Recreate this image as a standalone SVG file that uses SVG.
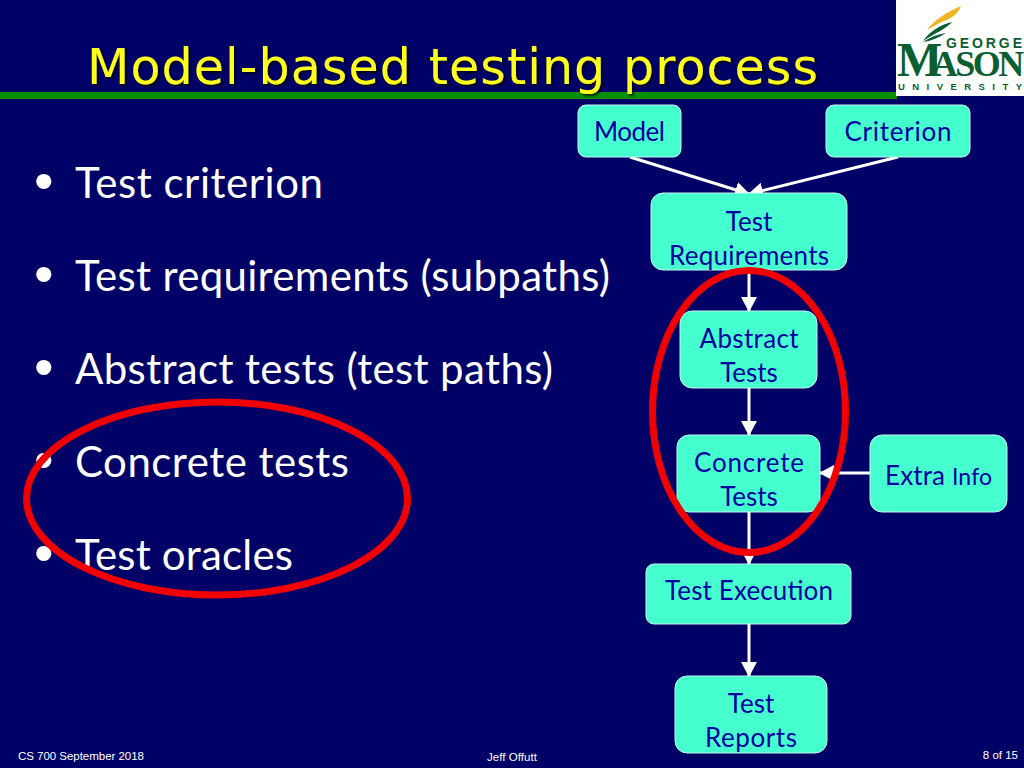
<svg xmlns="http://www.w3.org/2000/svg" width="1024" height="768" viewBox="0 0 1024 768">
<style>
.n{fill:#45FFCF;stroke:#C4F4F0;stroke-width:1}
.t{font-family:Lato,"Liberation Sans",sans-serif;font-size:26px;fill:#0000A0;text-anchor:middle}
.b{font-family:Lato,"Liberation Sans",sans-serif;font-size:42px;fill:#fff}
.d{font-family:"Liberation Sans",sans-serif;font-size:56px;fill:#fff}
.f{font-family:"Liberation Sans",sans-serif;font-size:11.500px;fill:#fff}
.c{stroke:#fff;stroke-width:3;fill:none;marker-end:url(#a)}
.r{fill:none;stroke:#F00000;stroke-width:7}
.g{font-family:"Liberation Sans",sans-serif;font-weight:bold;fill:#0B5D32}
</style>
<defs><marker id="a" markerUnits="userSpaceOnUse" markerWidth="16" markerHeight="18" refX="14" refY="9" orient="auto"><path d="M0 1L15 9L0 17Z" fill="#fff"/></marker>
<filter id="s" x="-5%" y="-20%" width="110%" height="140%"><feDropShadow dx="2" dy="2" stdDeviation="0.800" flood-color="#000" flood-opacity=".7"/></filter></defs>
<rect width="1024" height="768" fill="#000066"/>
<rect y="92" width="897" height="7" fill="#0A8F0A"/>
<g id="title"><text x="87" y="84" font-family="'DejaVu Sans',Verdana,sans-serif" font-size="49" fill="#FFFF1A" textLength="731" filter="url(#s)">Model-based testing process</text></g>
<g id="logo"><rect x="896" width="128" height="96" fill="#fff"/>
<path d="M927 30C934 20 947 12 961 6C958 14 952 18 944 21C937 24 932 27 927 30Z" fill="#F0B323"/>
<path d="M923 41C930 31 940 25 952 22C946 29 935 33 923 41Z" fill="#0B5D32"/>
<path d="M923 42C930 37 938 34 946 33C938 38 931 41 923 42Z" fill="#0B5D32"/>
<text class="g" x="946" y="48" font-size="14" textLength="76">GEORGE</text>
<text x="897" y="76" font-family="'Liberation Serif',serif" font-weight="bold" font-size="36" fill="#0B5D32" letter-spacing="-2.500"><tspan font-size="48">M</tspan><tspan dx="-8">ASON</tspan></text>
<text class="g" x="898" y="90" font-size="9.500" textLength="124">UNIVERSITY</text></g>
<g id="bullets">
<text class="d" x="34" y="200">•</text><text class="b" x="75" y="198" textLength="248">Test criterion</text>
<text class="d" x="34" y="293">•</text><text class="b" x="75" y="291" textLength="535">Test requirements (subpaths)</text>
<text class="d" x="34" y="386">•</text><text class="b" x="75" y="384" textLength="478">Abstract tests (test paths)</text>
<text class="d" x="34" y="479">•</text><text class="b" x="75" y="477" textLength="274">Concrete tests</text>
<text class="d" x="34" y="572">•</text><text class="b" x="75" y="570" textLength="218">Test oracles</text>
</g>
<g id="connectors">
<path class="c" d="M630 157L749 194"/><path class="c" d="M898 157L749 194"/>
<path class="c" d="M749 270V311"/><path class="c" d="M749 388V435"/>
<path class="c" d="M749 512V564"/><path class="c" d="M749 624V676"/><path class="c" d="M870 473H820"/>
</g>
<g id="model"><rect class="n" x="578" y="105" width="103" height="52" rx="8"/><text class="t" x="629.500" y="141" textLength="71">Model</text></g>
<g id="criterion"><rect class="n" x="826" y="105" width="144" height="52" rx="8"/><text class="t" x="898" y="141" textLength="107">Criterion</text></g>
<g id="requirements"><rect class="n" x="651" y="193" width="196" height="77" rx="12"/><text class="t" x="749" y="231">Test</text><text class="t" x="749" y="265" textLength="160">Requirements</text></g>
<g id="abstract"><rect class="n" x="680" y="311" width="137" height="77" rx="12"/><text class="t" x="749" y="348" textLength="99">Abstract</text><text class="t" x="749" y="382">Tests</text></g>
<g id="concrete"><rect class="n" x="677" y="435" width="143" height="77" rx="12"/><text class="t" x="749" y="472" textLength="110">Concrete</text><text class="t" x="749" y="506">Tests</text></g>
<g id="extra"><rect class="n" x="870" y="435" width="137" height="77" rx="12"/><text class="t" x="938.500" y="485" textLength="107">Extra <tspan font-size="23">Info</tspan></text></g>
<g id="execution"><rect class="n" x="646" y="564" width="205" height="60" rx="8"/><text class="t" x="749" y="600" textLength="168">Test Execution</text></g>
<g id="reports"><rect class="n" x="675" y="676" width="152" height="77" rx="12"/><text class="t" x="751" y="713">Test</text><text class="t" x="751" y="747" textLength="92">Reports</text></g>
<ellipse class="r" cx="749" cy="411.500" rx="96.500" ry="141"/>
<ellipse class="r" cx="217" cy="498.500" rx="190.500" ry="96.500"/>
<g id="footer"><text class="f" x="18" y="760" textLength="126">CS 700 September 2018</text><text class="f" x="487" y="761" textLength="50">Jeff Offutt</text><text class="f" x="1018" y="759" text-anchor="end">8 of 15</text></g>
</svg>
